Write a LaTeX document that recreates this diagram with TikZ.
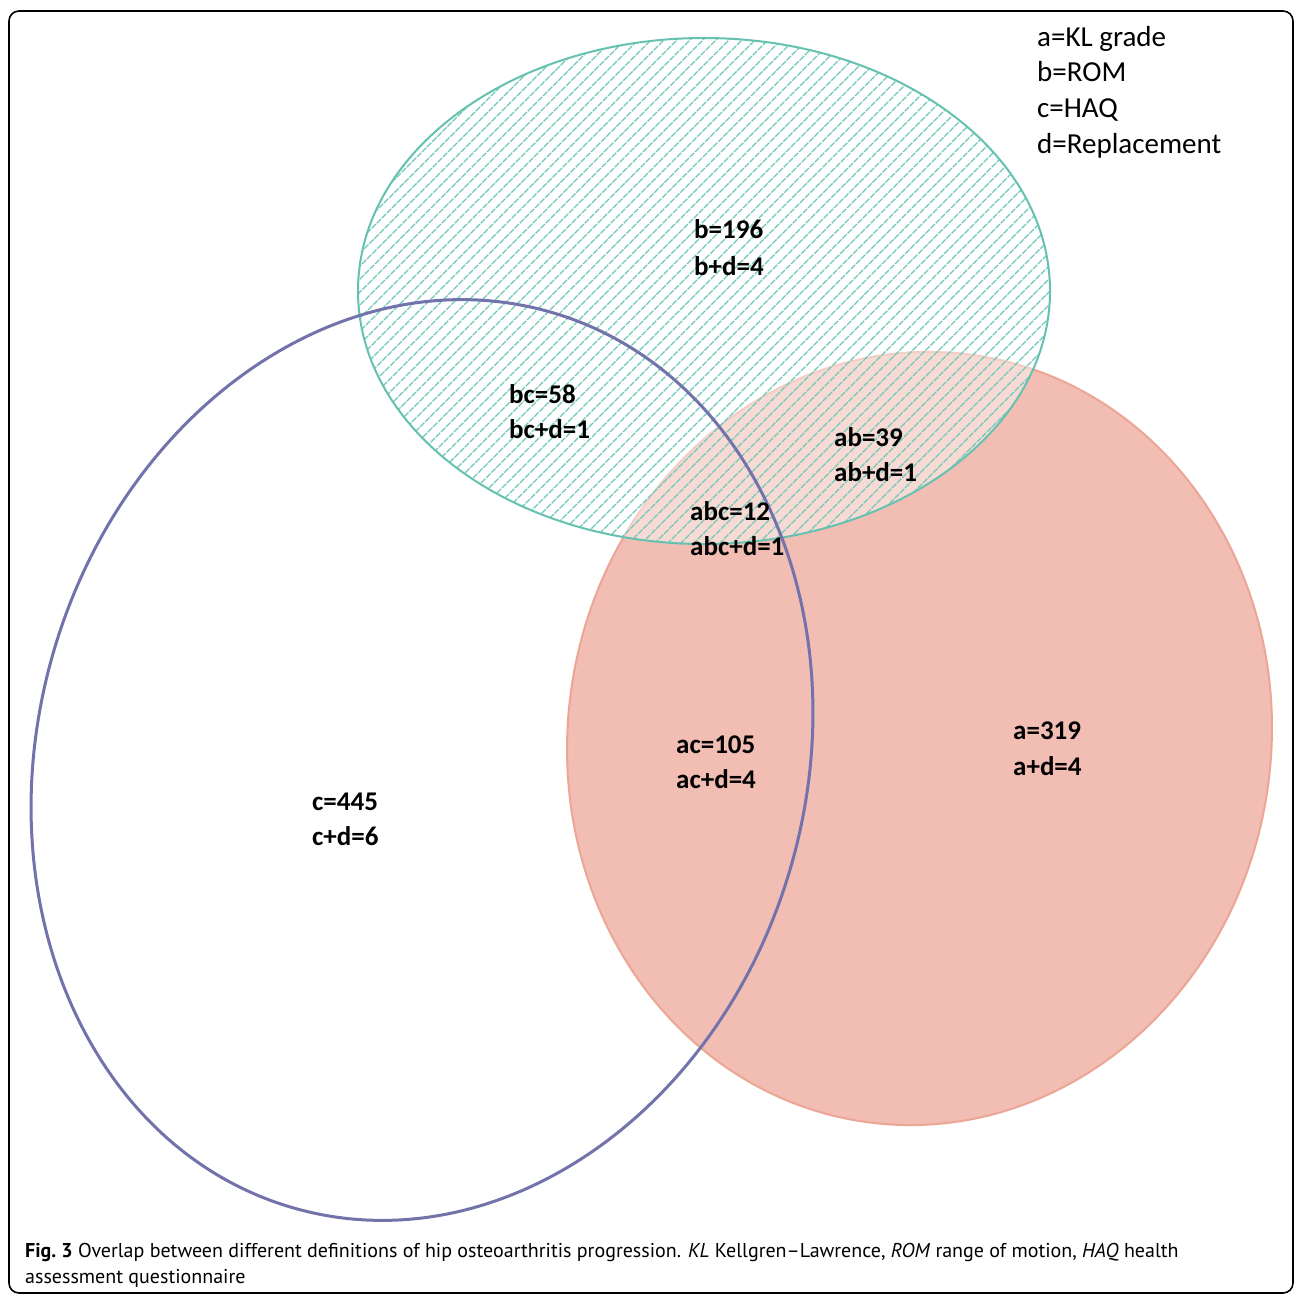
\documentclass[tikz,border=0pt]{standalone}
\usepackage{fontspec}
\setmainfont{Carlito}
\newfontfamily\capfont{PT Sans}
\definecolor{redfill}{HTML}{F2BDB2}
\definecolor{redline}{HTML}{EBA696}
\definecolor{greenline}{HTML}{66C2B0}
\definecolor{hatchcol}{HTML}{70C8B9}
\definecolor{blueline}{HTML}{7373AC}
\tikzset{
  lbl/.style={anchor=base west, inner sep=0pt, font=\fontsize{27}{30}\selectfont\bfseries, text=black},
  leg/.style={anchor=base west, inner sep=0pt, font=\fontsize{29}{32}\selectfont, text=black},
  captext/.style={anchor=base west, inner sep=0pt, font=\capfont\fontsize{20}{23}\selectfont, text=black},
  hatchline/.style={draw=hatchcol, line width=1.2pt, dash pattern=on 6pt off 1.2pt},
}
\begin{document}
\begin{tikzpicture}[x=1pt, y=-1pt]
\useasboundingbox (0,0) rectangle (1295,1297);
\fill[white] (0,0) rectangle (1295,1297);
\draw[line width=1.6pt, rounded corners=10pt] (9,11) rectangle (1293,1293);
% a ellipse (red)
\draw[fill=redfill, draw=redline, line width=2pt, rotate around={-8:(919.5,738.5)}] (919.5,738.5) ellipse [x radius=351.7pt, y radius=387.2pt];
% b ellipse (hatched)
\fill[white, opacity=0.45] (704,291) ellipse [x radius=346pt, y radius=253pt];
\begin{scope}
\clip (704,291) ellipse [x radius=346pt, y radius=253pt];
\foreach \i in {0,...,102} {
  \draw[hatchline] ({-260+13*\i},600) -- ++(600,-600);
}
\end{scope}
\draw[draw=greenline, line width=2pt] (704,291) ellipse [x radius=346pt, y radius=253pt];
% c ellipse (blue)
\draw[draw=blueline, line width=3pt, rotate around={-16:(422,760)}] (422,760) ellipse [x radius=384pt, y radius=466pt];
% labels
\node[lbl] (b1) at (694,239) {b=196};
\node[lbl] (b2) at (694,275) {b+d=4};
\node[lbl] (bc1) at (509,403) {bc=58};
\node[lbl] (bc2) at (509,438) {bc+d=1};
\node[lbl] (ab1) at (834,446) {ab=39};
\node[lbl] (ab2) at (834,481) {ab+d=1};
\node[lbl] (abc1) at (690,520) {abc=12};
\node[lbl] (abc2) at (690,555) {abc+d=1};
\node[lbl] (ac1) at (676,753) {ac=105};
\node[lbl] (ac2) at (676,788) {ac+d=4};
\node[lbl] (a1) at (1013,739) {a=319};
\node[lbl] (a2) at (1013,775) {a+d=4};
\node[lbl] (c1) at (312,810) {c=445};
\node[lbl] (c2) at (312,845) {c+d=6};
% legend
\node[leg] (l1) at (1037,47) {a=KL grade};
\node[leg] (l2) at (1037,82) {b=ROM};
\node[leg] (l3) at (1037,118) {c=HAQ};
\node[leg] (l4) at (1037,154) {d=Replacement};
% caption
\node[captext] (cap1) at (25,1257) {\textbf{Fig.\ 3} Overlap between different definitions of hip osteoarthritis progression. \textit{KL} Kellgren–Lawrence, \textit{ROM} range of motion, \textit{HAQ} health};
\node[captext] (cap2) at (25,1283) {assessment questionnaire};
\end{tikzpicture}
\end{document}
